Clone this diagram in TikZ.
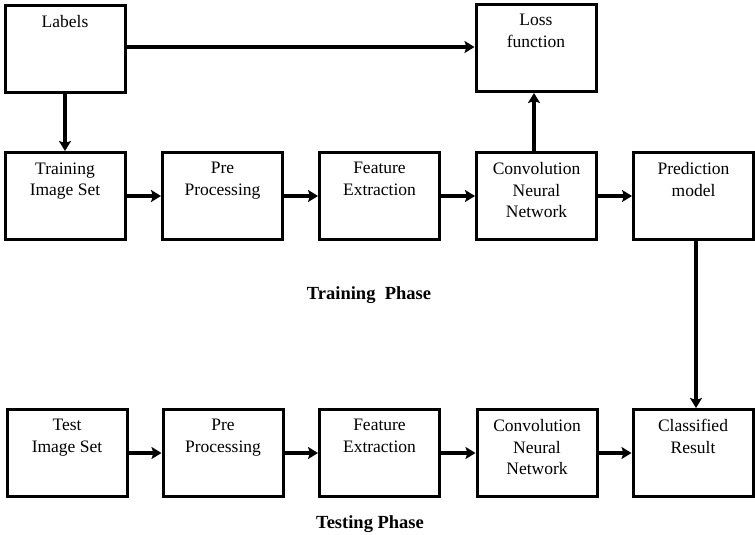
\documentclass[tikz,border=0pt]{standalone}
\usepackage{fontspec}
\setmainfont{Liberation Serif}
\usetikzlibrary{arrows.meta}
\tikzset{
  blk/.style={draw,line width=3pt,inner sep=0pt,minimum width=120pt,minimum height=87pt,font=\fontsize{17.5}{21.5}\selectfont},
  flow/.style={line width=3.4pt,-{Stealth[length=10pt,width=12pt,inset=2pt]}},
  phase/.style={font=\fontsize{18.5}{22}\selectfont\bfseries}
}
\newcommand{\blktxt}[1]{\parbox[c][67pt][t]{118pt}{\centering #1}}
\begin{document}
\begin{tikzpicture}[x=1pt,y=-1pt]
	\useasboundingbox (0,0) rectangle (755,535);
	% training phase
	\node[blk] (lab) at (65,49) {\blktxt{Labels}};
	\node[blk] (loss) at (536,48) {\blktxt{Loss\\function}};
	\node[blk] (trn) at (65,196) {\blktxt{Training\\Image Set}};
	\node[blk] (pre1) at (222.5,196) {\blktxt{Pre\\Processing}};
	\node[blk] (fea1) at (379.5,196) {\blktxt{Feature\\Extraction}};
	\node[blk] (cnn1) at (536.5,196) {\blktxt{Convolution\\Neural\\Network}};
	\node[blk] (pred) at (693.5,196) {\blktxt{Prediction\\model}};
	\node[phase] (trph) at (369,295) {Training\ \ Phase};
	% testing phase
	\node[blk] (tst) at (67,453) {\blktxt{Test\\Image Set}};
	\node[blk] (pre2) at (223,453) {\blktxt{Pre\\Processing}};
	\node[blk] (fea2) at (379.5,453) {\blktxt{Feature\\Extraction}};
	\node[blk] (cnn2) at (537,453) {\blktxt{Convolution\\Neural\\Network}};
	\node[blk] (cls) at (693,453) {\blktxt{Classified\\Result}};
	\node[phase] (tsph) at (370,524) {Testing Phase};
	% arrows
	\draw[flow] (lab.east |- 0,47) -- (loss.west |- 0,47);
	\draw[flow] (lab) -- (trn);
	\draw[flow] (cnn1.north -| 534,0) -- (loss.south -| 534,0);
	\draw[flow] (pred.south -| 696,0) -- (cls.north -| 696,0);
	\foreach \a/\b in {trn/pre1,pre1/fea1,fea1/cnn1,cnn1/pred,tst/pre2,pre2/fea2,fea2/cnn2,cnn2/cls}
		\draw[flow] (\a) -- (\b);
\end{tikzpicture}
\end{document}
